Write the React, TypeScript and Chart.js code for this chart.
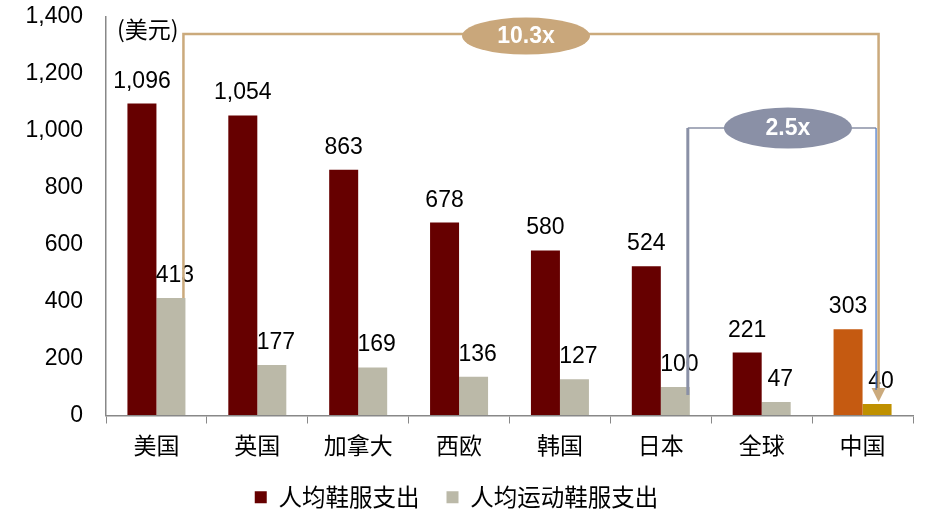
import { useEffect, useRef } from "react";
import { Chart, registerables, type Plugin } from "chart.js";

Chart.register(...registerables);

const categories = ["美国", "英国", "加拿大", "西欧", "韩国", "日本", "全球", "中国"];
const apparelSpend = [1096, 1054, 863, 678, 580, 524, 221, 303];
const sportsSpend = [413, 177, 169, 136, 127, 100, 47, 40];
const seriesNames = ["人均鞋服支出", "人均运动鞋服支出"];
const yTicks = { min: 0, max: 1400, step: 200 };
const unitLabel = "(美元)";
const ratioLabels = ["10.3x", "2.5x"];

const LATIN = "'Liberation Sans', Arial, sans-serif";
const CJK = "'Noto Sans CJK SC', sans-serif";

const apparelColors = categories.map((_, i) => (i === categories.length - 1 ? "#C55A11" : "#660000"));
const sportsColors = categories.map((_, i) => (i === categories.length - 1 ? "#BF9000" : "#BBB9A8"));

const fmt = (v: number) => v.toLocaleString("en-US");

function drawEllipseLabel(ctx: CanvasRenderingContext2D, cx: number, cy: number, rx: number, ry: number, fill: string, text: string) {
  ctx.beginPath();
  ctx.ellipse(cx, cy, rx, ry, 0, 0, Math.PI * 2);
  ctx.fillStyle = fill;
  ctx.fill();
  ctx.fillStyle = "#fff";
  ctx.font = `bold 23px ${LATIN}`;
  ctx.textAlign = "center";
  ctx.textBaseline = "middle";
  ctx.fillText(text, cx, cy + 1);
}

const overlay: Plugin<"bar"> = {
  id: "overlay",
  afterDatasetsDraw(chart) {
    const { ctx, chartArea, scales } = chart;
    const y = scales.y;
    const apparel = chart.getDatasetMeta(0).data as any[];
    const sports = chart.getDatasetMeta(1).data as any[];
    ctx.save();

    // value labels
    ctx.font = `23px ${LATIN}`;
    ctx.fillStyle = "#000";
    ctx.textAlign = "center";
    ctx.textBaseline = "alphabetic";
    apparel.forEach((bar, i) => ctx.fillText(fmt(apparelSpend[i]), bar.x, bar.y - 16));
    sports.forEach((bar, i) => ctx.fillText(fmt(sportsSpend[i]), bar.x + 4, bar.y - 16));

    // unit
    ctx.font = `23px ${CJK}`;
    ctx.textAlign = "left";
    ctx.textBaseline = "middle";
    ctx.fillText(unitLabel, chartArea.left + 11, chartArea.top + 12);

    const us = sports[0];
    const jp = sports[5];
    const cn = sports[categories.length - 1];

    // 10.3x bracket
    const tan = "#CBAA7C";
    const topY = y.getPixelForValue(1340);
    const lx = us.x + us.width / 2 - 2;
    const rx = cn.x + 1.5;
    const arrowTip = cn.y - 2;
    ctx.strokeStyle = tan;
    ctx.lineWidth = 2.5;
    ctx.beginPath();
    ctx.moveTo(lx, us.y);
    ctx.lineTo(lx, topY);
    ctx.lineTo(rx, topY);
    ctx.lineTo(rx, arrowTip - 14);
    ctx.stroke();
    ctx.fillStyle = tan;
    ctx.beginPath();
    ctx.moveTo(rx - 7, arrowTip - 14);
    ctx.lineTo(rx + 7, arrowTip - 14);
    ctx.lineTo(rx, arrowTip);
    ctx.closePath();
    ctx.fill();
    drawEllipseLabel(ctx, (lx + rx) / 2 - 5, topY + 2, 64, 18.5, "#C9A77B", ratioLabels[0]);

    // 2.5x bracket
    const slate = "#8A90A6";
    const midY = y.getPixelForValue(1010);
    const jx = jp.x + jp.width / 2 - 2;
    const cx2 = cn.x - 1;
    ctx.strokeStyle = slate;
    ctx.lineWidth = 3;
    ctx.beginPath();
    ctx.moveTo(jx, jp.y + 8);
    ctx.lineTo(jx, midY);
    ctx.stroke();
    ctx.lineWidth = 1.5;
    ctx.beginPath();
    ctx.moveTo(jx, midY);
    ctx.lineTo(cx2, midY);
    ctx.stroke();
    ctx.strokeStyle = "#4472C4";
    ctx.lineWidth = 1.2;
    ctx.beginPath();
    ctx.moveTo(cx2, midY);
    ctx.lineTo(cx2, arrowTip - 12);
    ctx.stroke();
    drawEllipseLabel(ctx, (jx + cx2) / 2 + 6, midY, 64, 20.5, slate, ratioLabels[1]);

    ctx.restore();
  },
};

export default function App() {
  const canvasRef = useRef<HTMLCanvasElement | null>(null);

  useEffect(() => {
    if (!canvasRef.current) return;
    const chart = new Chart(canvasRef.current, {
      type: "bar",
      data: {
        labels: categories,
        datasets: [
          { label: seriesNames[0], data: apparelSpend, backgroundColor: apparelColors, borderWidth: 0 },
          { label: seriesNames[1], data: sportsSpend, backgroundColor: sportsColors, borderWidth: 0 },
        ],
      },
      options: {
        animation: false,
        responsive: true,
        maintainAspectRatio: false,
        layout: { padding: { top: 17, right: 26, bottom: 10, left: 0 } },
        datasets: { bar: { categoryPercentage: 0.575, barPercentage: 1 } },
        plugins: {
          legend: {
            position: "bottom",
            labels: {
              boxWidth: 12,
              boxHeight: 12,
              padding: 27,
              color: "#000",
              font: { family: CJK, size: 23.5 },
            },
          },
          tooltip: { enabled: false },
        },
        scales: {
          x: {
            grid: { drawOnChartArea: false, drawTicks: true, tickLength: 8, color: "#888" },
            border: { color: "#888", width: 1.5 },
            ticks: { color: "#000", padding: 8, font: { family: CJK, size: 23 } },
            afterFit: (scale) => {
              scale.height = 43;
            },
          },
          y: {
            min: yTicks.min,
            max: yTicks.max,
            grid: { drawOnChartArea: false, drawTicks: true, tickLength: 23, color: "rgba(0,0,0,0)" },
            border: { color: "#888", width: 1.5 },
            ticks: {
              stepSize: yTicks.step,
              padding: 0,
              color: "#000",
              font: { family: LATIN, size: 23 },
              callback: (v) => fmt(Number(v)),
            },
            afterFit: (scale) => {
              scale.width = 106;
            },
          },
        },
      },
      plugins: [overlay],
    });
    return () => chart.destroy();
  }, []);

  return (
    <div style={{ position: "fixed", left: 0, top: 0, width: 939, height: 529, background: "#fff" }}>
      <canvas ref={canvasRef} />
    </div>
  );
}
